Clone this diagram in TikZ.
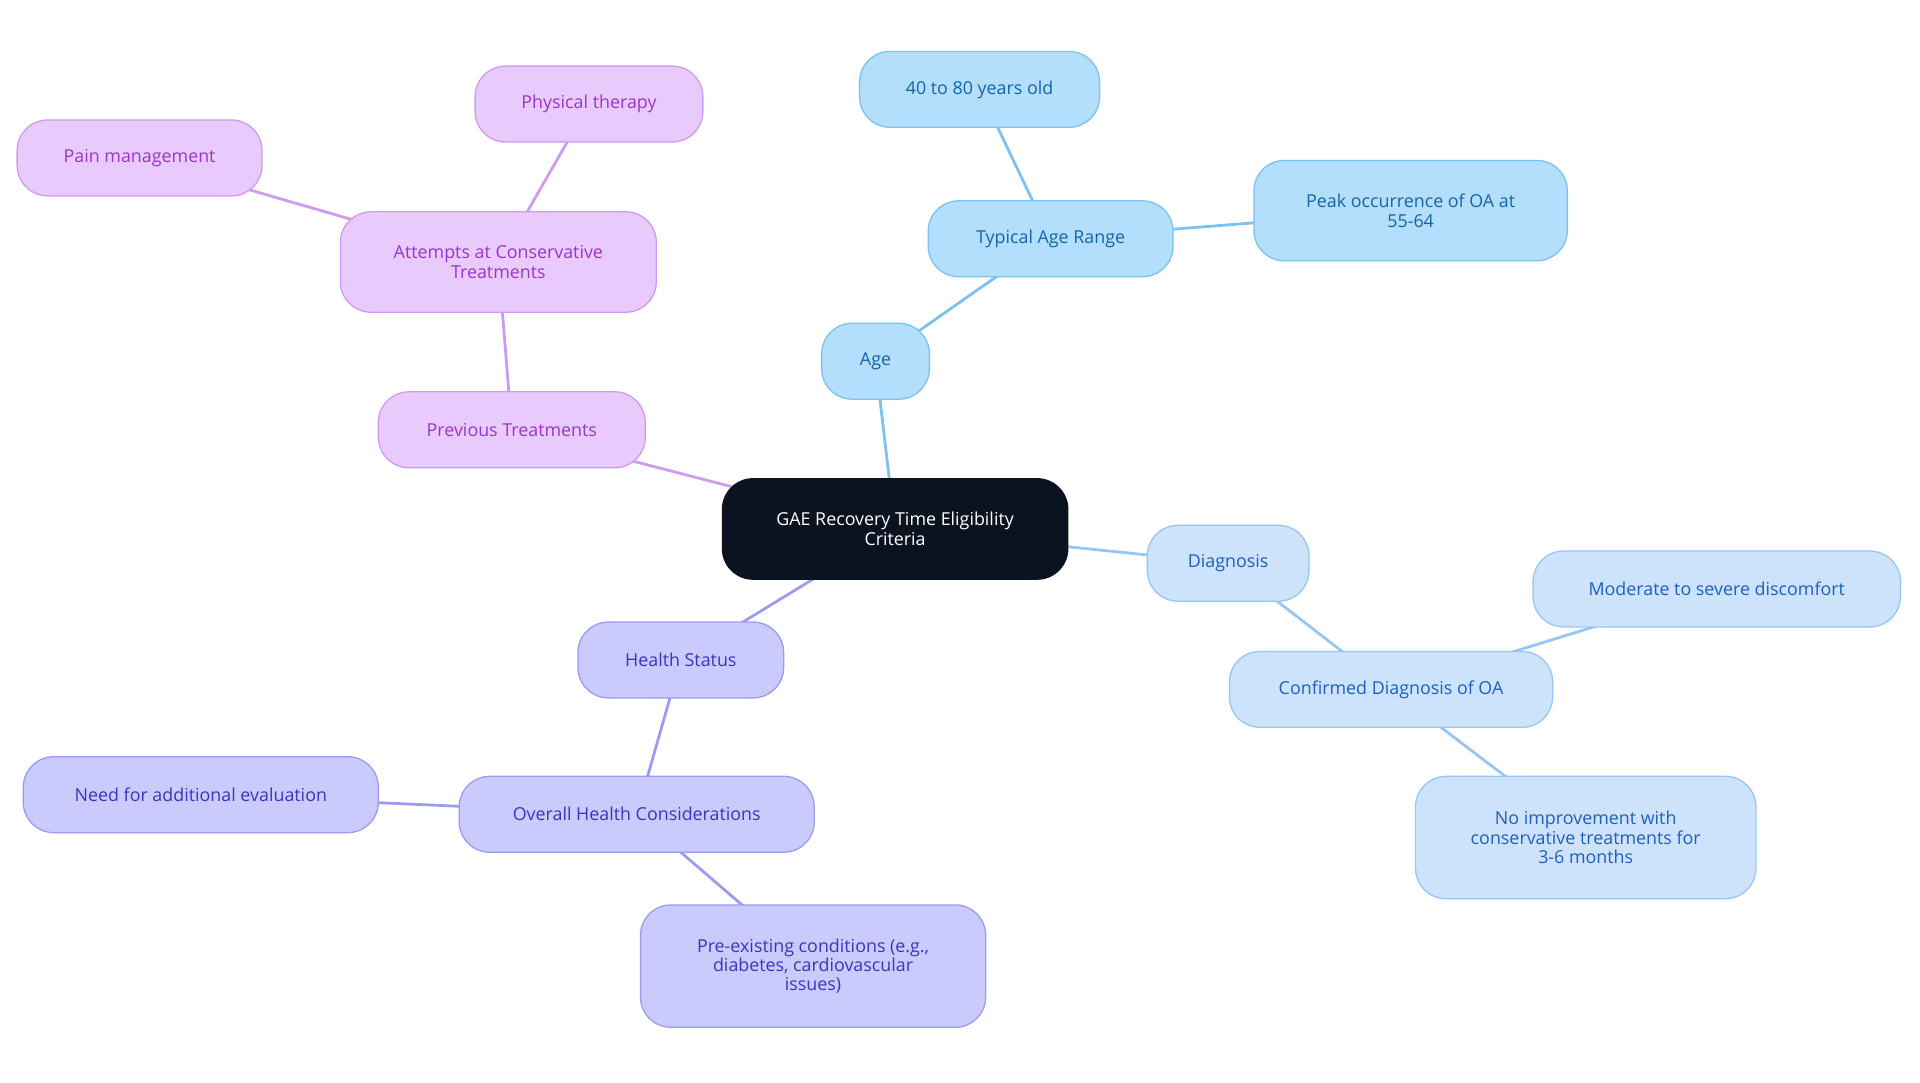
\documentclass[tikz,border=0pt]{standalone}
\usepackage{fontspec}
\setmainfont{Open Sans}
\usetikzlibrary{backgrounds}
\definecolor{rootf}{HTML}{0B1220}
\definecolor{af}{HTML}{B3DEFC}\definecolor{ad}{HTML}{7CC2F0}\definecolor{at}{HTML}{1565A8}
\definecolor{df}{HTML}{CCE3FB}\definecolor{dd}{HTML}{98C5F2}\definecolor{dt}{HTML}{1F5FC0}
\definecolor{hf}{HTML}{CACBFC}\definecolor{hd}{HTML}{9B9CF0}\definecolor{ht}{HTML}{3A35C0}
\definecolor{pf}{HTML}{E8CBFC}\definecolor{pd}{HTML}{CF9AF2}\definecolor{pt}{HTML}{9A35CC}
\tikzset{
 box/.style={rounded corners=0.5cm,draw,line width=0.6pt,align=center,font=\fontsize{8.3}{9}\selectfont,inner sep=0pt},
 A/.style={box,fill=af,draw=ad,text=at},
 D/.style={box,fill=df,draw=dd,text=dt},
 H/.style={box,fill=hf,draw=hd,text=ht},
 P/.style={box,fill=pf,draw=pd,text=pt},
 ea/.style={ad,line width=1.3pt},ed/.style={dd,line width=1.3pt},
 eh/.style={hd,line width=1.3pt},ep/.style={pd,line width=1.3pt},
}
\begin{document}
\begin{tikzpicture}[x=0.02cm,y=-0.02cm]
\useasboundingbox (0,0) rectangle (1568,884);
\node[box,fill=rootf,draw=rootf,text=white,minimum width=282*0.02cm,minimum height=82*0.02cm] (root) at (731,432) {GAE Recovery Time Eligibility\\Criteria};
\node[A,minimum width=88*0.02cm,minimum height=62*0.02cm] (age) at (715,295) {Age};
\node[A,minimum width=200*0.02cm,minimum height=62*0.02cm] (tar) at (858,195) {Typical Age Range};
\node[A,minimum width=196*0.02cm,minimum height=62*0.02cm] (y40) at (800,73) {40 to 80 years old};
\node[A,minimum width=256*0.02cm,minimum height=82*0.02cm] (peak) at (1152,172) {Peak occurrence of OA at\\55-64};
\node[D,minimum width=132*0.02cm,minimum height=62*0.02cm] (diag) at (1003,460) {Diagnosis};
\node[D,minimum width=264*0.02cm,minimum height=62*0.02cm] (conf) at (1136,563) {Confirmed Diagnosis of OA};
\node[D,minimum width=300*0.02cm,minimum height=62*0.02cm] (mod) at (1402,481) {Moderate to severe discomfort};
\node[D,minimum width=278*0.02cm,minimum height=100*0.02cm] (noimp) at (1295,684) {No improvement with\\conservative treatments for\\3-6 months};
\node[H,minimum width=168*0.02cm,minimum height=62*0.02cm] (hs) at (556,539) {Health Status};
\node[H,minimum width=290*0.02cm,minimum height=62*0.02cm] (ohc) at (520,665) {Overall Health Considerations};
\node[H,minimum width=290*0.02cm,minimum height=62*0.02cm] (need) at (164,649) {Need for additional evaluation};
\node[H,minimum width=282*0.02cm,minimum height=100*0.02cm] (pre) at (664,789) {Pre-existing conditions (e.g.,\\diabetes, cardiovascular\\issues)};
\node[P,minimum width=218*0.02cm,minimum height=62*0.02cm] (prev) at (418,351) {Previous Treatments};
\node[P,minimum width=258*0.02cm,minimum height=82*0.02cm] (att) at (407,214) {Attempts at Conservative\\Treatments};
\node[P,minimum width=186*0.02cm,minimum height=62*0.02cm] (phys) at (481,85) {Physical therapy};
\node[P,minimum width=200*0.02cm,minimum height=62*0.02cm] (pain) at (114,129) {Pain management};
\begin{pgfonlayer}{background}
\draw[ea] (root.center)--(age.center) (age.center)--(tar.center) (tar.center)--(y40.center) (tar.center)--(peak.center);
\draw[ed] (root.center)--(diag.center) (diag.center)--(conf.center) (conf.center)--(mod.center) (conf.center)--(noimp.center);
\draw[eh] (root.center)--(hs.center) (hs.center)--(ohc.center) (ohc.center)--(need.center) (ohc.center)--(pre.center);
\draw[ep] (root.center)--(prev.center) (prev.center)--(att.center) (att.center)--(phys.center) (att.center)--(pain.center);
\end{pgfonlayer}
\end{tikzpicture}
\end{document}
